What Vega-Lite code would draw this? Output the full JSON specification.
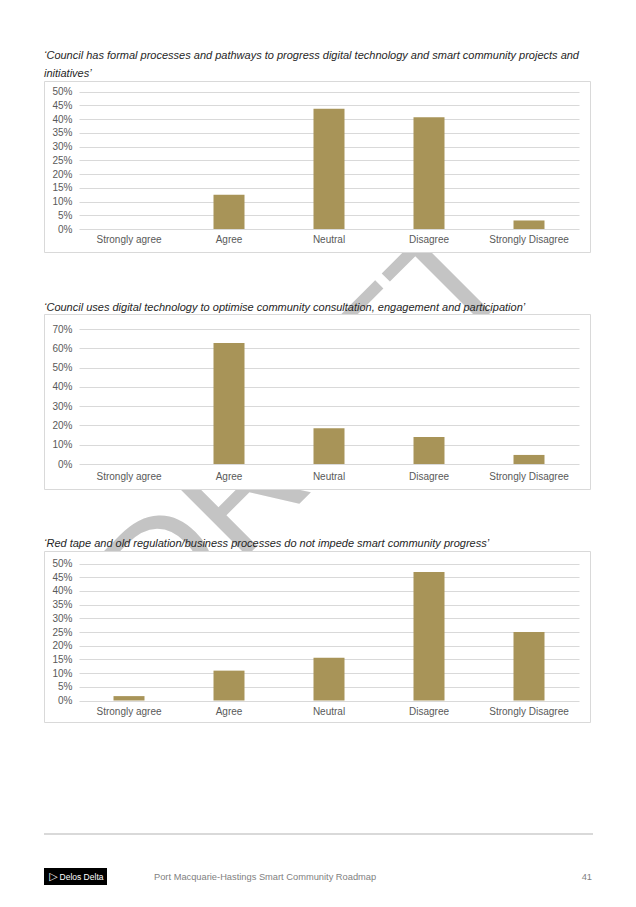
{
  "$schema": "https://vega.github.io/schema/vega-lite/v6.json",
  "background": "white",
  "padding": {"left": 43, "top": 0, "right": 0, "bottom": 0},
  "bounds": "flush",
  "spacing": 62,
  "config": {"view": {"stroke": null}, "font": "Liberation Sans"},
  "vconcat": [
    {
      "width": 546,
      "height": 19,
      "data": {"values": [{"label": "DRAFT"}]},
      "mark": {"type": "text", "angle": -45, "align": "left", "baseline": "alphabetic", "fontSize": 152, "font": "Liberation Sans", "color": "#c4c4c4", "dx": -558, "dy": 337},
      "encoding": {"text": {"field": "label"}}
    },
    {
      "width": 546,
      "height": 171,
      "view": {"fill": "white", "stroke": "#d9d9d9", "strokeWidth": 1},
      "title": {"text": ["\u2002‘Council has formal processes and pathways to progress digital technology and smart community projects and", "initiatives’"], "anchor": "start", "fontSize": 11, "fontStyle": "italic", "fontWeight": "normal", "color": "#262626", "lineHeight": 18, "offset": 2, "font": "Liberation Sans"},
      "data": {"values": [
        {"response": "Strongly agree", "share": 0},
        {"response": "Agree", "share": 0.125},
        {"response": "Neutral", "share": 0.4375},
        {"response": "Disagree", "share": 0.406},
        {"response": "Strongly Disagree", "share": 0.031}
      ]},
      "mark": {"type": "bar", "color": "#a89458"},
      "encoding": {
        "x": {"field": "response", "type": "nominal", "sort": ["Strongly agree", "Agree", "Neutral", "Disagree", "Strongly Disagree"],
          "scale": {"range": [35, 535], "paddingInner": 0.69, "paddingOuter": 0.345},
          "axis": {"title": null, "labelAngle": 0, "domain": false, "ticks": false, "tickSize": 0, "labelPadding": 2, "offset": -20, "labelFontSize": 10, "labelColor": "#595959", "labelFont": "Liberation Sans", "grid": false}},
        "y": {"field": "share", "type": "quantitative",
          "scale": {"domain": [0, 0.5], "range": [148, 10.5], "nice": false},
          "axis": {"title": null, "values": [0, 0.05, 0.1, 0.15, 0.2, 0.25, 0.3, 0.35, 0.4, 0.45, 0.5], "format": ".0%", "grid": true, "gridColor": "#d9d9d9", "domain": false, "ticks": false, "tickSize": 0, "labelPadding": 2, "offset": -30, "minExtent": 0, "labelFontSize": 10, "labelColor": "#595959", "labelFont": "Liberation Sans"}}
      }
    },
    {
      "width": 546,
      "height": 175,
      "view": {"fill": "white", "stroke": "#d9d9d9", "strokeWidth": 1},
      "title": {"text": "‘Council uses digital technology to optimise community consultation, engagement and participation’", "anchor": "start", "fontSize": 11, "fontStyle": "italic", "fontWeight": "normal", "color": "#262626", "offset": 1, "font": "Liberation Sans"},
      "data": {"values": [
        {"response": "Strongly agree", "share": 0},
        {"response": "Agree", "share": 0.628},
        {"response": "Neutral", "share": 0.186},
        {"response": "Disagree", "share": 0.14},
        {"response": "Strongly Disagree", "share": 0.047}
      ]},
      "mark": {"type": "bar", "color": "#a89458"},
      "encoding": {
        "x": {"field": "response", "type": "nominal", "sort": ["Strongly agree", "Agree", "Neutral", "Disagree", "Strongly Disagree"],
          "scale": {"range": [35, 535], "paddingInner": 0.69, "paddingOuter": 0.345},
          "axis": {"title": null, "labelAngle": 0, "domain": false, "ticks": false, "tickSize": 0, "labelPadding": 2, "offset": -20, "labelFontSize": 10, "labelColor": "#595959", "labelFont": "Liberation Sans", "grid": false}},
        "y": {"field": "share", "type": "quantitative",
          "scale": {"domain": [0, 0.7], "range": [150, 15], "nice": false},
          "axis": {"title": null, "values": [0, 0.1, 0.2, 0.3, 0.4, 0.5, 0.6, 0.7], "format": ".0%", "grid": true, "gridColor": "#d9d9d9", "domain": false, "ticks": false, "tickSize": 0, "labelPadding": 2, "offset": -30, "minExtent": 0, "labelFontSize": 10, "labelColor": "#595959", "labelFont": "Liberation Sans"}}
      }
    },
    {
      "width": 546,
      "height": 171,
      "view": {"fill": "white", "stroke": "#d9d9d9", "strokeWidth": 1},
      "title": {"text": "‘Red tape and old regulation/business processes do not impede smart community progress’", "anchor": "start", "fontSize": 11, "fontStyle": "italic", "fontWeight": "normal", "color": "#262626", "offset": 2, "font": "Liberation Sans"},
      "data": {"values": [
        {"response": "Strongly agree", "share": 0.016},
        {"response": "Agree", "share": 0.109},
        {"response": "Neutral", "share": 0.156},
        {"response": "Disagree", "share": 0.469},
        {"response": "Strongly Disagree", "share": 0.25}
      ]},
      "mark": {"type": "bar", "color": "#a89458"},
      "encoding": {
        "x": {"field": "response", "type": "nominal", "sort": ["Strongly agree", "Agree", "Neutral", "Disagree", "Strongly Disagree"],
          "scale": {"range": [35, 535], "paddingInner": 0.69, "paddingOuter": 0.345},
          "axis": {"title": null, "labelAngle": 0, "domain": false, "ticks": false, "tickSize": 0, "labelPadding": 2, "offset": -17.5, "labelFontSize": 10, "labelColor": "#595959", "labelFont": "Liberation Sans", "grid": false}},
        "y": {"field": "share", "type": "quantitative",
          "scale": {"domain": [0, 0.5], "range": [149.5, 12.5], "nice": false},
          "axis": {"title": null, "values": [0, 0.05, 0.1, 0.15, 0.2, 0.25, 0.3, 0.35, 0.4, 0.45, 0.5], "format": ".0%", "grid": true, "gridColor": "#d9d9d9", "domain": false, "ticks": false, "tickSize": 0, "labelPadding": 2, "offset": -30, "minExtent": 0, "labelFontSize": 10, "labelColor": "#595959", "labelFont": "Liberation Sans"}}
      }
    },
    {
      "spacing": 34,
      "bounds": "flush",
      "vconcat": [
        {
          "width": 549,
          "height": 50,
          "data": {"values": [{"v": 0}]},
          "mark": {"type": "rule", "color": "#d9d9d9", "strokeWidth": 2},
          "encoding": {"y": {"field": "v", "type": "quantitative", "scale": {"domain": [0, 1]}, "axis": null}}
        },
        {
          "spacing": 0,
          "bounds": "flush",
          "hconcat": [
            {
              "width": 63,
              "height": 17,
              "view": {"fill": "black", "stroke": null},
              "layer": [
                {"data": {"values": [{"t": "Delos Delta"}]}, "mark": {"type": "text", "color": "white", "fontSize": 8.5, "dx": 6, "font": "Liberation Sans"}, "encoding": {"text": {"field": "t"}}},
                {"data": {"values": [{"t": "▷"}]}, "mark": {"type": "text", "color": "white", "fontSize": 11, "dx": -22, "font": "DejaVu Sans"}, "encoding": {"text": {"field": "t"}}}
              ]
            },
            {
              "width": 486,
              "height": 17,
              "layer": [
                {"data": {"values": [{"t": "Port Macquarie-Hastings Smart Community Roadmap"}]}, "mark": {"type": "text", "align": "left", "dx": -196, "color": "#7f7f7f", "fontSize": 9.3, "font": "Liberation Sans"}, "encoding": {"text": {"field": "t"}}},
                {"data": {"values": [{"t": "41"}]}, "mark": {"type": "text", "align": "right", "dx": 242, "color": "#7f7f7f", "fontSize": 9.3, "font": "Liberation Sans"}, "encoding": {"text": {"field": "t"}}}
              ]
            }
          ]
        }
      ]
    }
  ]
}
